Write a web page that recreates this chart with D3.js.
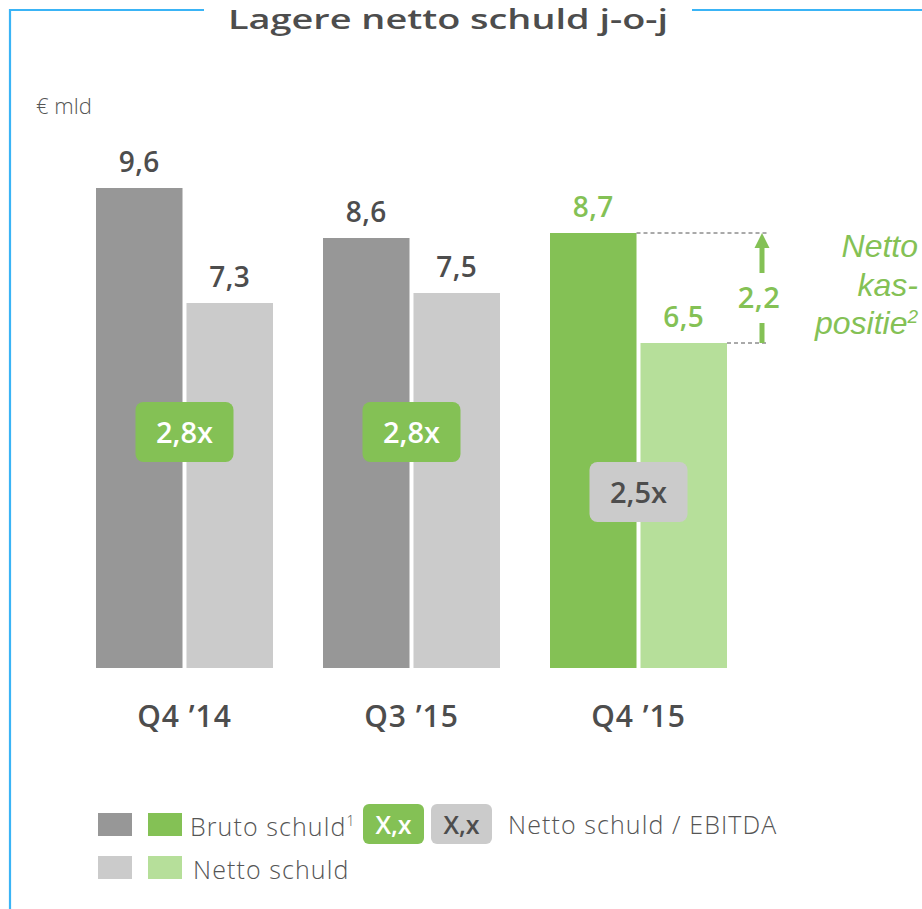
<!DOCTYPE html>
<html>
<head>
<meta charset="utf-8">
<script src="https://cdn.jsdelivr.net/npm/d3@7"></script>
<style>
  body { margin: 0; background: #fff; }
  svg { display: block; font-family: "Open Sans", sans-serif; }
</style>
</head>
<body>
<svg id="chart" width="922" height="909"></svg>
<script>
// data
const categories = ["Q4 \u201914", "Q3 \u201915", "Q4 \u201915"]
const brutoSchuld = [9.6, 8.6, 8.7]
const nettoSchuld = [7.3, 7.5, 6.5]
const schuldEbitda = [2.8, 2.8, 2.5]
const kasPositie = 2.2
const series = ["bruto", "netto"]

const grey = { bruto: "#979797", netto: "#cbcbcb" }
const green = { bruto: "#84c155", netto: "#b6df9a" }
const textDark = "#4d4d4d"
const lineBlue = "#3ab4f6"

const nl = d3.formatLocale({ decimal: ",", thousands: ".", grouping: [3], currency: ["€", ""] })
const fmt = nl.format(".1f")

const svg = d3.select("#chart")

// frame with title cut into the top line
svg.append("path")
    .attr("d", "M204,10H10V909M692,10H922")
    .attr("fill", "none")
    .attr("stroke", lineBlue)
    .attr("stroke-width", 2.2)

svg.append("text")
    .attr("x", 448).attr("y", 29)
    .attr("text-anchor", "middle")
    .attr("font-size", 27).attr("font-weight", 600)
    .attr("fill", textDark)
    .attr("textLength", 440).attr("lengthAdjust", "spacingAndGlyphs")
    .text("Lagere netto schuld j-o-j")

svg.append("text")
    .attr("x", 36).attr("y", 114)
    .attr("font-size", 22).attr("font-weight", 300).attr("fill", "#555")
    .text("€ mld")

// scales
const x = d3.scaleBand().domain(categories).range([96, 727]).paddingInner(50 / 227)
const xs = d3.scaleBand().domain(series).range([0, x.bandwidth()]).paddingInner(0.044)
const y = d3.scaleLinear().domain([0, 9.6]).range([668, 188])

const rows = categories.map((c, i) => ({
    cat: c, i,
    values: [{ key: "bruto", v: brutoSchuld[i] }, { key: "netto", v: nettoSchuld[i] }],
    ratio: schuldEbitda[i]
}))
const isLast = i => i === categories.length - 1

const groups = svg.append("g").selectAll("g")
    .data(rows)
    .join("g")
    .attr("transform", d => `translate(${x(d.cat)},0)`)

groups.selectAll("rect")
    .data(d => d.values.map(v => ({ ...v, i: d.i })))
    .join("rect")
    .attr("x", d => xs(d.key))
    .attr("width", xs.bandwidth())
    .attr("y", d => y(d.v))
    .attr("height", d => y(0) - y(d.v))
    .attr("fill", d => (isLast(d.i) ? green : grey)[d.key])

groups.selectAll("text.val")
    .data(d => d.values.map(v => ({ ...v, i: d.i })))
    .join("text")
    .attr("class", "val")
    .attr("x", d => xs(d.key) + xs.bandwidth() / 2)
    .attr("y", d => y(d.v) - 16)
    .attr("text-anchor", "middle")
    .attr("font-size", 28).attr("font-weight", 600)
    .attr("letter-spacing", 0.5)
    .attr("fill", d => isLast(d.i) ? green.bruto : textDark)
    .text(d => fmt(d.v))

groups.append("text")
    .attr("x", x.bandwidth() / 2)
    .attr("y", 727)
    .attr("text-anchor", "middle")
    .attr("font-size", 30).attr("font-weight", 600)
    .attr("letter-spacing", 1)
    .attr("fill", textDark)
    .text(d => d.cat)

// netto schuld / EBITDA badges, centred on the gap between the two bars
const badgeCy = [432, 432, 492]
const badge = groups.append("g")
    .attr("transform", (d, i) => `translate(${x.bandwidth() / 2},${badgeCy[i]})`)
badge.append("rect")
    .attr("x", -49).attr("y", -30)
    .attr("width", 98).attr("height", 60)
    .attr("rx", 8)
    .attr("fill", (d, i) => isLast(i) ? grey.netto : green.bruto)
badge.append("text")
    .attr("y", 11)
    .attr("text-anchor", "middle")
    .attr("font-size", 29).attr("font-weight", 600)
    .attr("fill", (d, i) => isLast(i) ? textDark : "#fff")
    .text(d => fmt(d.ratio) + "x")

// netto kaspositie marker
const last = categories[categories.length - 1]
const gx = x(last)
const yTop = y(brutoSchuld[2]), yBot = y(nettoSchuld[2])
const ax = 762
svg.append("line")
    .attr("x1", gx + xs("bruto") + xs.bandwidth()).attr("x2", 768)
    .attr("y1", yTop).attr("y2", yTop)
svg.append("line")
    .attr("x1", gx + xs("netto") + xs.bandwidth()).attr("x2", 768)
    .attr("y1", yBot).attr("y2", yBot)
svg.selectAll("line")
    .attr("stroke", "#555").attr("stroke-width", 1).attr("stroke-dasharray", "4,3")

svg.append("path")
    .attr("d", `M${ax},${yTop}L${ax + 7.5},${yTop + 15}L${ax - 7.5},${yTop + 15}Z`)
    .attr("fill", green.bruto)
svg.append("rect")
    .attr("x", ax - 2.5).attr("width", 5)
    .attr("y", yTop + 14).attr("height", 273 - yTop - 14)
    .attr("fill", green.bruto)
svg.append("rect")
    .attr("x", ax - 2.5).attr("width", 5)
    .attr("y", 323).attr("height", yBot - 323)
    .attr("fill", green.bruto)
svg.append("text")
    .attr("x", 759).attr("y", 308)
    .attr("text-anchor", "middle")
    .attr("font-size", 29).attr("font-weight", 600)
    .attr("letter-spacing", 0.5)
    .attr("fill", green.bruto)
    .text(fmt(kasPositie))

const kas = svg.append("text")
    .attr("text-anchor", "end")
    .attr("font-family", "'Liberation Sans', Arial, sans-serif")
    .attr("font-style", "italic")
    .attr("font-size", 32)
    .attr("fill", green.bruto)
kas.append("tspan").attr("x", 918).attr("y", 257).text("Netto")
kas.append("tspan").attr("x", 918).attr("y", 296).text("kas-")
const pos = kas.append("tspan").attr("x", 918).attr("y", 334)
pos.append("tspan").text("positie")
pos.append("tspan").attr("font-size", 19).attr("dy", -11).text("2")

// legend
const legend = svg.append("g").attr("font-size", 25).attr("font-weight", 300)
    .attr("letter-spacing", 1.1).attr("fill", "#555")
const legRows = [
    { key: "bruto", y: 813, label: "Bruto schuld", sup: "1" },
    { key: "netto", y: 856, label: "Netto schuld", sup: "" }
]
legRows.forEach(r => {
    legend.append("rect").attr("x", 98).attr("y", r.y).attr("width", 34).attr("height", 23).attr("fill", grey[r.key])
    legend.append("rect").attr("x", 148).attr("y", r.y).attr("width", 34).attr("height", 23).attr("fill", green[r.key])
    const t = legend.append("text").attr("x", r.key === "bruto" ? 190 : 193).attr("y", r.y + 23).text(r.label)
    if (r.sup) t.append("tspan").attr("font-size", 14).attr("dy", -10).text(r.sup)
})
const legBadges = [
    { x: 363, fill: green.bruto, color: "#fff" },
    { x: 431, fill: grey.netto, color: textDark }
]
legBadges.forEach(b => {
    legend.append("rect").attr("x", b.x).attr("y", 804).attr("width", 61).attr("height", 40).attr("rx", 6).attr("fill", b.fill)
    legend.append("text").attr("x", b.x + 30.5).attr("y", 834).attr("text-anchor", "middle")
        .attr("letter-spacing", 0)
        .attr("font-size", 25).attr("font-weight", 600).attr("fill", b.color).text("X,x")
})
legend.append("text").attr("x", 508).attr("y", 834).text("Netto schuld / EBITDA")
</script>
</body>
</html>
